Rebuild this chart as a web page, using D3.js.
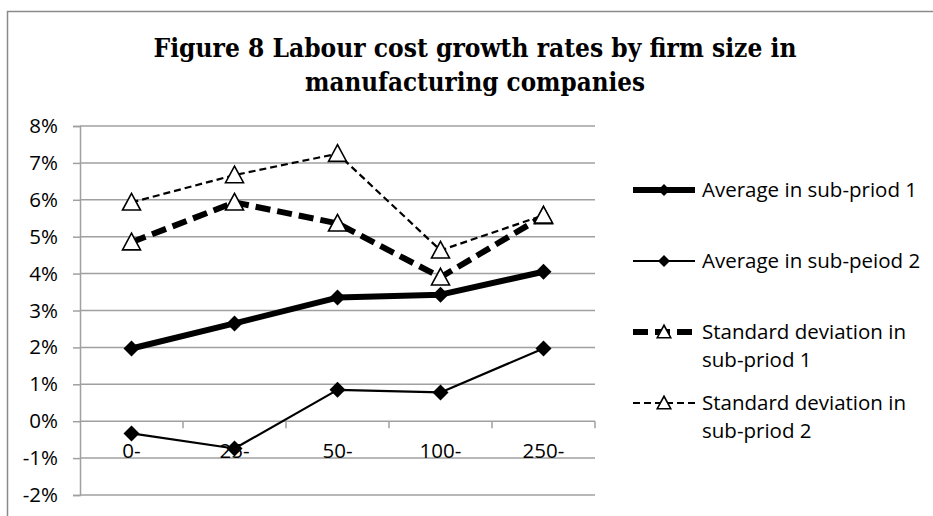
<!DOCTYPE html>
<html>
<head>
<meta charset="utf-8">
<script src="https://cdn.jsdelivr.net/npm/d3@7"></script>
<style>
  html, body { margin: 0; padding: 0; background: #fff; }
  svg { display: block; }
</style>
</head>
<body>
<svg id="chart" width="933" height="516"></svg>
<script>
// Firm size classes (number of employees)
const categories = ["0-", "25-", "50-", "100-", "250-"];

// Labour cost growth rates, percent
const avgSub1 = [1.97, 2.65, 3.35, 3.43, 4.05];
const avgSub2 = [-0.33, -0.74, 0.85, 0.78, 1.97];
const sdSub1  = [4.85, 5.93, 5.36, 3.90, 5.56];
const sdSub2  = [5.93, 6.67, 7.25, 4.63, 5.58];

const yTicks = [-2, -1, 0, 1, 2, 3, 4, 5, 6, 7, 8];

const titleLines = [
  "Figure 8 Labour cost growth rates by firm size in",
  "manufacturing companies"
];

const seriesNames = [
  ["Average in sub-priod 1"],
  ["Average in sub-peiod 2"],
  ["Standard deviation in", "sub-priod 1"],
  ["Standard deviation in", "sub-priod 2"]
];

const svg = d3.select("#chart");
const W = 933, H = 516;
const plot = { left: 80, right: 595, top: 126, bottom: 495 };
const sansFont = "'Open Sans', sans-serif";
const fontSize = 20.5;
const gridColor = "#a0a0a0";

// Outer chart frame
svg.append("rect")
  .attr("x", 7.5).attr("y", 11.5)
  .attr("width", W).attr("height", H)
  .attr("fill", "#fff")
  .attr("stroke", "#8a8a8a")
  .attr("stroke-width", 1.5);

// Title
const title = svg.append("text")
  .attr("text-anchor", "middle")
  .attr("font-family", "'DejaVu Serif', serif")
  .attr("font-weight", "bold")
  .attr("font-size", 26)
  .attr("fill", "#000");
title.selectAll("tspan").data(titleLines).join("tspan")
  .attr("x", 475)
  .attr("y", (d, i) => 57 + i * 34)
  .attr("textLength", (d, i) => i === 0 ? 643 : 340)
  .attr("lengthAdjust", "spacingAndGlyphs")
  .text(d => d);

// Scales
const x = d3.scaleBand().domain(categories).range([plot.left, plot.right]);
const y = d3.scaleLinear().domain([-2, 8]).range([plot.bottom, plot.top]);
const cx = c => x(c) + x.bandwidth() / 2;

// Horizontal gridlines
svg.append("g").selectAll("line").data(yTicks).join("line")
  .attr("x1", plot.left).attr("x2", plot.right)
  .attr("y1", d => y(d)).attr("y2", d => y(d))
  .attr("stroke", gridColor).attr("stroke-width", 1.5);

// Y axis
const yAxis = svg.append("g")
  .attr("transform", `translate(${plot.left},0)`)
  .call(d3.axisLeft(y).tickValues(yTicks).tickFormat(d => d + "%").tickSize(7).tickPadding(15));
yAxis.select(".domain").attr("stroke", gridColor).attr("stroke-width", 1.5);
yAxis.selectAll(".tick line").attr("stroke", gridColor).attr("stroke-width", 1.5);
yAxis.selectAll(".tick text")
  .attr("font-family", sansFont).attr("font-size", fontSize).attr("fill", "#000");

// X axis along the zero line, ticks at class boundaries
const boundaries = categories.map(c => x(c)).concat([plot.right]).slice(1);
svg.append("g").selectAll("line").data(boundaries).join("line")
  .attr("x1", d => d).attr("x2", d => d)
  .attr("y1", y(0)).attr("y2", y(0) + 7)
  .attr("stroke", gridColor).attr("stroke-width", 1.5);
svg.append("g").selectAll("text").data(categories).join("text")
  .attr("x", d => cx(d))
  .attr("y", y(0) + 37)
  .attr("text-anchor", "middle")
  .attr("font-family", sansFont).attr("font-size", fontSize).attr("fill", "#000")
  .text(d => d);

// Series definitions
const series = [
  { values: avgSub1, width: 6,   dash: null,   marker: "diamond" },
  { values: avgSub2, width: 2.2, dash: null,   marker: "diamond" },
  { values: sdSub1,  width: 6,   dash: "15,7", marker: "triangle" },
  { values: sdSub2,  width: 2.2, dash: "7,4",  marker: "triangle" }
];

const line = d3.line().x((d, i) => cx(categories[i])).y(d => y(d));

function drawMarker(g, type, px, py, scale) {
  if (type === "diamond") {
    const s = 8 * scale;
    g.append("path")
      .attr("d", `M${px},${py - s}L${px + s},${py}L${px},${py + s}L${px - s},${py}Z`)
      .attr("fill", "#000");
  } else {
    const s = 9 * scale;
    g.append("path")
      .attr("d", `M${px},${py - s}L${px + s},${py + s * 0.85}L${px - s},${py + s * 0.85}Z`)
      .attr("fill", "#fff").attr("stroke", "#000").attr("stroke-width", 1.6)
      .attr("stroke-linejoin", "miter");
  }
}

series.forEach(s => {
  const g = svg.append("g");
  g.append("path")
    .datum(s.values)
    .attr("d", line)
    .attr("fill", "none")
    .attr("stroke", "#000")
    .attr("stroke-width", s.width)
    .attr("stroke-dasharray", s.dash)
    .attr("stroke-linejoin", "round");
  s.values.forEach((v, i) => drawMarker(g, s.marker, cx(categories[i]), y(v), 1));
});

// Legend
const legendRows = [190, 261, 332, 403];
const legend = svg.append("g");
series.forEach((s, i) => {
  const ly = legendRows[i];
  const g = legend.append("g");
  g.append("line")
    .attr("x1", 633).attr("x2", 695)
    .attr("y1", ly).attr("y2", ly)
    .attr("stroke", "#000")
    .attr("stroke-width", s.width)
    .attr("stroke-dasharray", s.dash);
  drawMarker(g, s.marker, 664, ly, 0.75);
  const t = g.append("text")
    .attr("font-family", sansFont).attr("font-size", fontSize).attr("fill", "#000");
  t.selectAll("tspan").data(seriesNames[i]).join("tspan")
    .attr("x", 702)
    .attr("y", (d, j) => ly + 7 + j * 28)
    .text(d => d);
});
</script>
</body>
</html>
